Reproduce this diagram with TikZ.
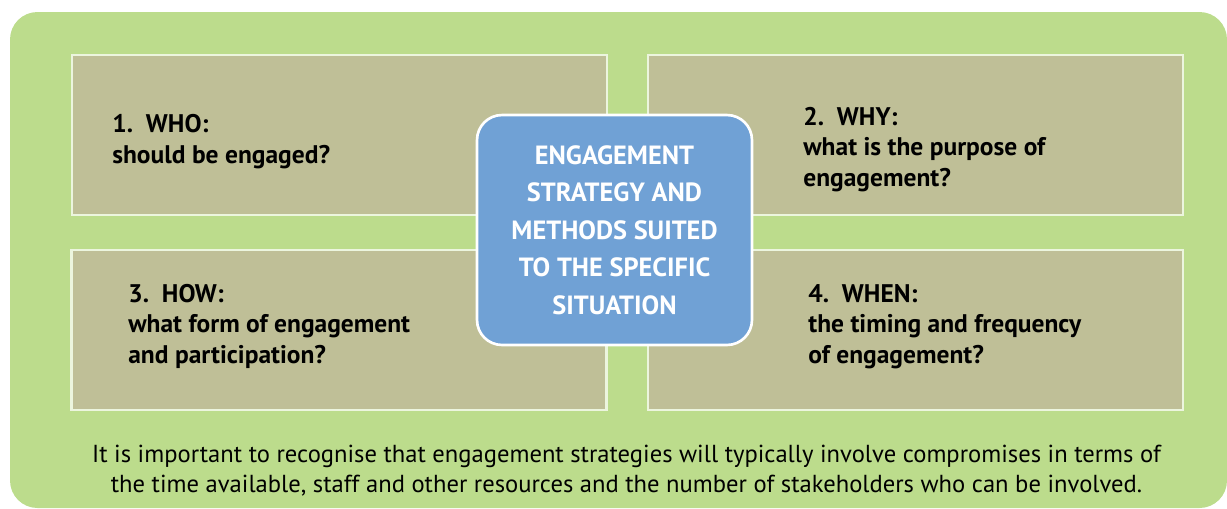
\documentclass[tikz,border=0pt]{standalone}
\usepackage{fontspec}
\setmainfont{PT Sans}
\usepackage{tikz}
\usetikzlibrary{positioning}
\definecolor{PanelGreen}{RGB}{188,220,140}
\definecolor{BoxOlive}{RGB}{191,191,151}
\definecolor{CoreBlue}{RGB}{112,161,213}
\definecolor{EdgeLight}{RGB}{236,245,222}

\begin{document}
\begin{tikzpicture}[x=0.02cm,y=-0.02cm,
      qbox/.style={draw=EdgeLight,line width=1.2pt,fill=BoxOlive,inner sep=0pt,
                   minimum width=10.7cm,minimum height=3.2cm},
      qtext/.style={anchor=base west,inner sep=0pt,align=left,
                    font=\fontsize{14.5}{17.2}\selectfont\bfseries},
      core/.style={draw=white,line width=1.5pt,fill=CoreBlue,rounded corners=0.5cm,
                   minimum width=5.5cm,minimum height=4.6cm,align=center,text=white,
                   font=\fontsize{15}{21.4}\selectfont\bfseries},
      note/.style={anchor=base,inner sep=0pt,align=center,
                   font=\fontsize{14}{17}\selectfont}]
    \useasboundingbox (0,0) rectangle (1227,508);
    \fill[PanelGreen,rounded corners=0.55cm] (10,12) rectangle (1227,508);
    % four question boxes
    \node[qbox] (who)  at (339.5,135) {};
    \node[qbox] (why)  at (915.5,135) {};
    \node[qbox] (how)  at (339,330) {};
    \node[qbox] (when) at (915.5,330) {};
    \node[qtext] (whoT)  at (112,163) {1.\ \ WHO:\\should be engaged?};
    \node[qtext] (whyT)  at (803,186) {2.\ \ WHY:\\what is the purpose of\\engagement?};
    \node[qtext] (howT)  at (128,363) {3.\ \ HOW:\\what form of engagement\\and participation?};
    \node[qtext] (whenT) at (808,363) {4.\ \ WHEN:\\the timing and frequency\\of engagement?};
    % centre
    \node[core] (centre) at (614.5,230) {ENGAGEMENT\\STRATEGY AND\\METHODS SUITED\\TO THE SPECIFIC\\SITUATION};
    \node[note] (remark) at (626.5,492) {It is important to recognise that engagement strategies will typically involve compromises in terms of\\the time available, staff and other resources and the number of stakeholders who can be involved.};
  \end{tikzpicture}
\end{document}
